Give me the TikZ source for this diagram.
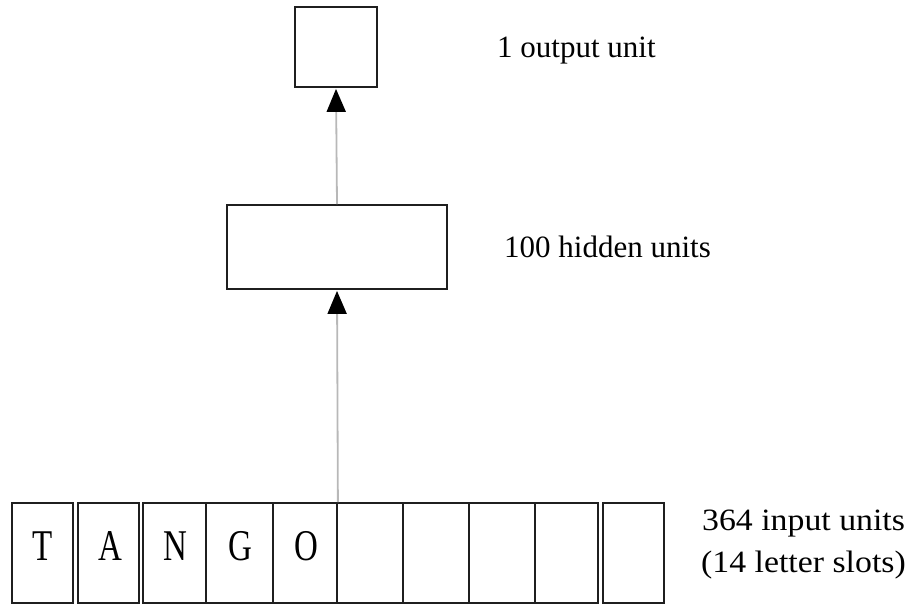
\documentclass[tikz,border=0pt]{standalone}
\usepackage{fontspec}
\setmainfont{Liberation Serif}
\usetikzlibrary{arrows.meta}
\tikzset{
  unitbox/.style={draw=black!88, line width=1.8pt, inner sep=0pt, fill=white},
  slot/.style={unitbox, minimum width=#1, minimum height=100pt},
  conn/.style={draw=black!28, line width=1.8pt, -{Triangle[length=23pt,width=19pt,color=black]}, shorten >=1pt},
  lbl/.style={anchor=base west, inner sep=0pt, font=\fontsize{31pt}{36pt}\selectfont},
  letter/.style={anchor=base, inner sep=0pt, font=\fontsize{33pt}{36pt}\selectfont}
}
\newcommand{\tallchar}[1]{\scalebox{1}[1.33]{#1}}
\newcommand{\widetxt}[1]{\scalebox{1.09}[1]{#1}}
\begin{document}
\begin{tikzpicture}[x=1pt,y=-1pt]
\useasboundingbox (0,0) rectangle (906,605);
% output
\node[unitbox, minimum width=82pt, minimum height=80pt] (out) at (336,47) {};
% hidden
\node[unitbox, minimum width=220pt, minimum height=84pt] (hid) at (337,247) {};
% input slots
\node[slot=61pt] (s1) at (42.5,553) {};
\node[slot=61pt] (s2) at (108.5,553) {};
\node[slot=63pt] (s3) at (174.5,553) {};
\node[slot=67pt] (s4) at (239.5,553) {};
\node[slot=64pt] (s5) at (305,553) {};
\node[slot=66pt] (s6) at (370,553) {};
\node[slot=66pt] (s7) at (436,553) {};
\node[slot=66pt] (s8) at (502,553) {};
\node[slot=63pt] (s9) at (566.5,553) {};
\node[slot=61pt] (s10) at (633.5,553) {};
% letters
\node[letter] (lT) at (43,560) {\tallchar{T}};
\node[letter] (lA) at (110,560) {\tallchar{A}};
\node[letter] (lN) at (175,560) {\tallchar{N}};
\node[letter] (lG) at (240,560) {\tallchar{G}};
\node[letter] (lO) at (306,560) {\tallchar{O}};
% connectors
\coordinate (src) at (s5.north east);
\draw[conn] (src) -- (hid.south);
\draw[conn] (hid.north) -- (out.south);
% labels
\node[lbl] (tout) at (497,57) {1 output unit};
\node[lbl] (thid) at (504,257) {100 hidden units};
\node[lbl] (tin1) at (702,530) {\widetxt{364 input units}};
\node[lbl] (tin2) at (701,572) {\widetxt{(14 letter slots)}};
\end{tikzpicture}
\end{document}
